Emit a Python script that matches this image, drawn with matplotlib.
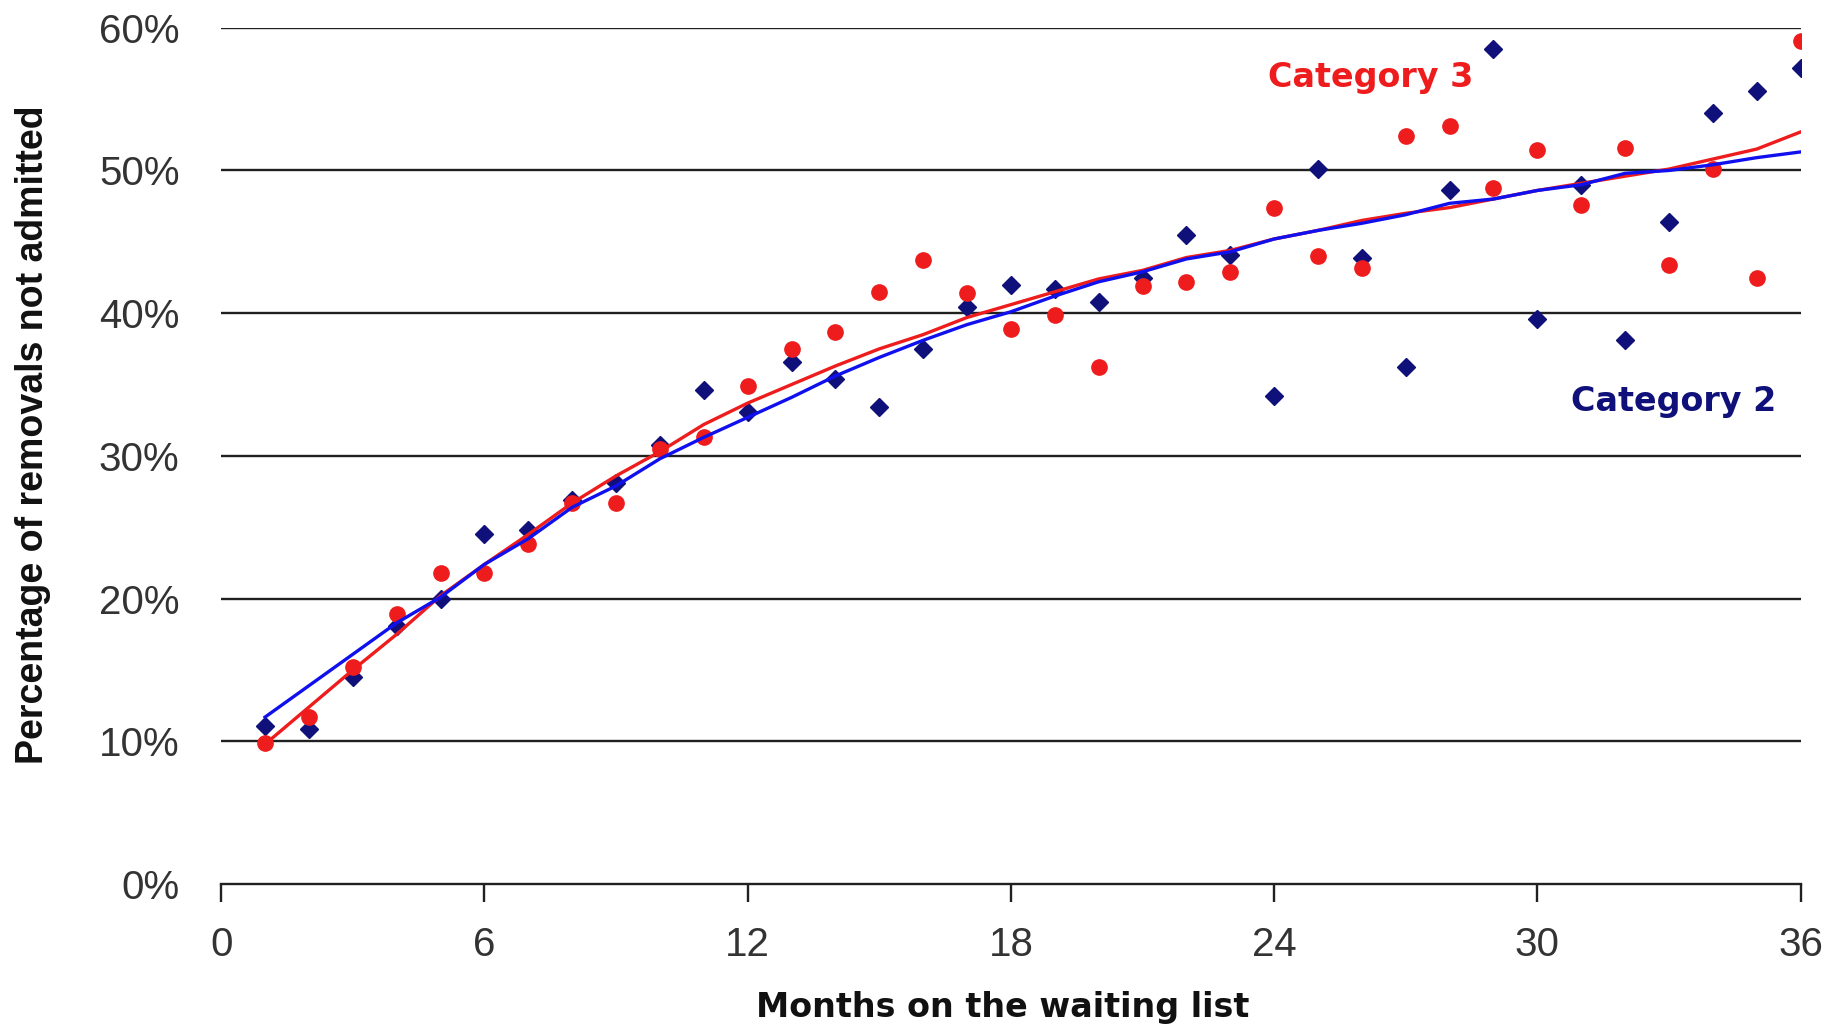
import matplotlib.pyplot as plt
from matplotlib.ticker import PercentFormatter

plt.rcParams['font.family'] = ['Liberation Sans', 'DejaVu Sans']

# months on the list
months = list(range(1, 37))

# Category 2 (navy diamonds) - observed values, %
cat2_obs = [11.1, 10.9, 14.5, 18.1, 20.0, 24.5, 24.8, 26.9, 28.1, 30.8,
            34.6, 33.1, 36.6, 35.4, 33.4, 37.5, 40.4, 42.0, 41.7, 40.8,
            42.5, 45.5, 44.1, 34.2, 50.1, 43.9, 36.2, 48.6, 58.5, 39.6,
            49.0, 38.1, 46.4, 54.0, 55.6, 57.2]
# Category 3 (red circles) - observed values, %
cat3_obs = [9.9, 11.7, 15.2, 18.9, 21.8, 21.8, 23.8, 26.7, 26.7, 30.5,
            31.3, 34.9, 37.5, 38.7, 41.5, 43.7, 41.4, 38.9, 39.9, 36.2,
            41.9, 42.2, 42.9, 47.4, 44.0, 43.2, 52.4, 53.1, 48.8, 51.4,
            47.6, 51.6, 43.4, 50.1, 42.5, 59.1]

# smoothed trend lines, %
cat2_trend = [11.7, 13.9, 16.1, 18.3, 20.1, 22.4, 24.2, 26.4, 27.9, 29.8,
              31.3, 32.7, 34.1, 35.6, 36.9, 38.1, 39.2, 40.1, 41.2, 42.2,
              42.9, 43.8, 44.3, 45.2, 45.8, 46.3, 46.9, 47.7, 48.0, 48.6,
              49.0, 49.8, 50.0, 50.4, 50.9, 51.3]
cat3_trend = [9.8, 12.4, 15.0, 17.5, 20.2, 22.4, 24.5, 26.7, 28.6, 30.3,
              32.2, 33.7, 35.0, 36.3, 37.5, 38.5, 39.7, 40.6, 41.5, 42.4,
              43.0, 43.9, 44.4, 45.2, 45.8, 46.5, 47.0, 47.4, 48.0, 48.6,
              49.1, 49.6, 50.1, 50.8, 51.5, 52.7]

x_ticks = [0, 6, 12, 18, 24, 30, 36]
y_ticks = [0, 10, 20, 30, 40, 50, 60]

navy = '#10107a'
red = '#ee1c1c'
blue = '#1010ee'

fig = plt.figure(figsize=(18.43, 10.28), dpi=100)
ax = fig.add_axes([0.12, 0.14, 0.857, 0.833])

ax.plot(months, cat2_obs, linestyle='none', marker='D', markersize=9.5,
        color=navy, zorder=3)
ax.plot(months, cat3_obs, linestyle='none', marker='o', markersize=11,
        color=red, zorder=3)
ax.plot(months, cat3_trend, color=red, linewidth=2.4, zorder=4)
ax.plot(months, cat2_trend, color=blue, linewidth=2.4, zorder=5)

ax.set_xlim(0, 36)
ax.set_ylim(0, 60)
ax.set_xticks(x_ticks)
ax.set_yticks(y_ticks)
ax.yaxis.set_major_formatter(PercentFormatter(decimals=0))

# horizontal gridlines only
for y in y_ticks[1:]:
    ax.axhline(y, color='#202020', linewidth=1.7, zorder=1)

for s in ['top', 'right', 'left']:
    ax.spines[s].set_visible(False)
ax.spines['bottom'].set_color('#202020')
ax.spines['bottom'].set_linewidth(1.7)

ax.tick_params(axis='y', length=0, pad=30, labelsize=29, labelcolor='#333333')
ax.tick_params(axis='x', length=13, width=1.7, color='#202020', pad=17,
               labelsize=29, labelcolor='#333333')

fig.text(0.018, 0.577, 'Percentage of removals not admitted', rotation=90,
         ha='center', va='center', fontsize=27, fontweight='bold', color='#111111')
fig.text(0.544, 0.02, 'Months on the waiting list', ha='center', va='center',
         fontsize=24, fontweight='bold', color='#111111', family='DejaVu Sans')

ax.text(26.2, 56.5, 'Category 3', color=red, fontsize=24, fontweight='bold',
        ha='center', va='center', family='DejaVu Sans')
ax.text(33.1, 33.8, 'Category 2', color=navy, fontsize=24, fontweight='bold',
        ha='center', va='center', family='DejaVu Sans')

fig.savefig('out.png', dpi=100)
